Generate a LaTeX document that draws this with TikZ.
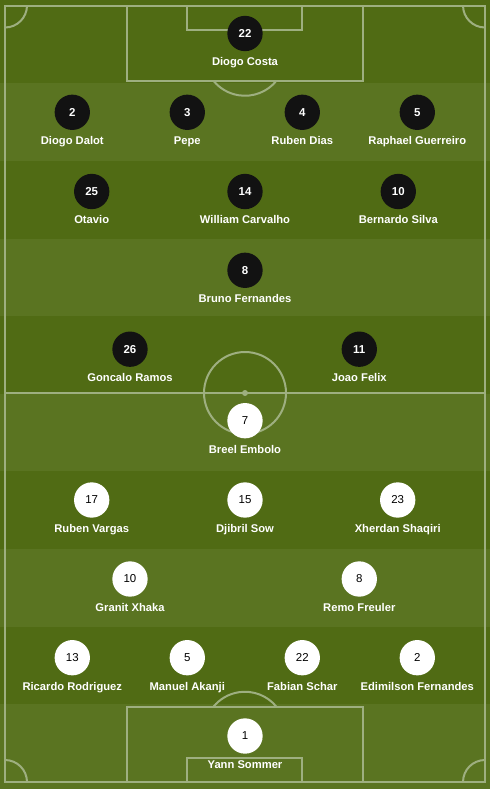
\documentclass[tikz,border=0pt]{standalone}
\usepackage{fontspec}
\setmainfont{Liberation Sans}
\usepackage{tikz}

\definecolor{grassdark}{HTML}{506B14}
\definecolor{grasslight}{HTML}{5A7421}
\definecolor{chalk}{HTML}{9EAF80}
\definecolor{shirtdark}{HTML}{121212}

% one player: style, name, x, y, number, label
\newcommand{\player}[6]{%
    \node[#1] (#2) at (#3,#4) {#5};
    \node[plname] (#2-name) at (#3,#4+32.3) {#6};}

\begin{document}
\begin{tikzpicture}[x=0.75pt,y=-0.75pt,
    pitchline/.style={draw=chalk,line width=1.5pt},
    homeplayer/.style={circle,fill=shirtdark,text=white,minimum size=26.5pt,inner sep=0pt,font=\fontsize{8.6}{10}\selectfont\bfseries},
    awayplayer/.style={circle,fill=white,text=black,minimum size=26.5pt,inner sep=0pt,font=\fontsize{8.6}{10}\selectfont},
    plname/.style={text=white,inner sep=0pt,anchor=base,font=\fontsize{8.4}{10}\selectfont\bfseries}]
    \useasboundingbox (0,0) rectangle (490,789);
    % grass stripes
    \fill[grasslight] (0,0) rectangle (490,789);
    \foreach \top/\bot in {0/83.2, 160.8/238.5, 316/393.8, 471.4/549, 626.7/704.3}
        \fill[grassdark] (0,\top) rectangle (490,\bot);
    % markings
    \draw[pitchline] (5,5.5) rectangle (485,782);
    \draw[pitchline] (5,393) -- (485,393);
    \draw[pitchline] (245,393) circle[radius=41];
    \fill[chalk] (245,393) circle[radius=3];
    \draw[pitchline] (126.7,5.5) rectangle (363.3,80.7);
    \draw[pitchline] (186.7,5.5) rectangle (302.3,30);
    \draw[pitchline] (276.5,80.7) arc[start angle=39,end angle=141,radius=40.6];
    \draw[pitchline] (126.7,706.8) rectangle (363.3,782);
    \draw[pitchline] (186.7,757.7) rectangle (302.3,782);
    \draw[pitchline] (276.5,706.8) arc[start angle=-39,end angle=-141,radius=40.6];
    \draw[pitchline] (27,5.5) arc[start angle=0,end angle=90,radius=22];
    \draw[pitchline] (485,27.5) arc[start angle=90,end angle=180,radius=22];
    \draw[pitchline] (5,760) arc[start angle=-90,end angle=0,radius=22];
    \draw[pitchline] (463,782) arc[start angle=180,end angle=270,radius=22];
    % Portugal
    \player{homeplayer}{costa}{245}{33.5}{22}{Diogo Costa}
    \player{homeplayer}{dalot}{72.3}{112.3}{2}{Diogo Dalot}
    \player{homeplayer}{pepe}{187.3}{112.3}{3}{Pepe}
    \player{homeplayer}{dias}{302.3}{112.3}{4}{Ruben Dias}
    \player{homeplayer}{guerreiro}{417.3}{112.3}{5}{Raphael Guerreiro}
    \player{homeplayer}{otavio}{91.7}{191.5}{25}{Otavio}
    \player{homeplayer}{carvalho}{245}{191.5}{14}{William Carvalho}
    \player{homeplayer}{bernardo}{398.3}{191.5}{10}{Bernardo Silva}
    \player{homeplayer}{bruno}{245}{270.3}{8}{Bruno Fernandes}
    \player{homeplayer}{ramos}{130}{349.2}{26}{Goncalo Ramos}
    \player{homeplayer}{felix}{359.3}{349.2}{11}{Joao Felix}
    % Switzerland
    \player{awayplayer}{embolo}{245}{420.7}{7}{Breel Embolo}
    \player{awayplayer}{vargas}{91.7}{500}{17}{Ruben Vargas}
    \player{awayplayer}{sow}{245}{500}{15}{Djibril Sow}
    \player{awayplayer}{shaqiri}{397.7}{500}{23}{Xherdan Shaqiri}
    \player{awayplayer}{xhaka}{130}{579}{10}{Granit Xhaka}
    \player{awayplayer}{freuler}{359.3}{579}{8}{Remo Freuler}
    \player{awayplayer}{rodriguez}{72.3}{657.7}{13}{Ricardo Rodriguez}
    \player{awayplayer}{akanji}{187.3}{657.7}{5}{Manuel Akanji}
    \player{awayplayer}{schar}{302.3}{657.7}{22}{Fabian Schar}
    \player{awayplayer}{fernandes}{417.3}{657.7}{2}{Edimilson Fernandes}
    \player{awayplayer}{sommer}{245}{736}{1}{Yann Sommer}
\end{tikzpicture}
\end{document}
